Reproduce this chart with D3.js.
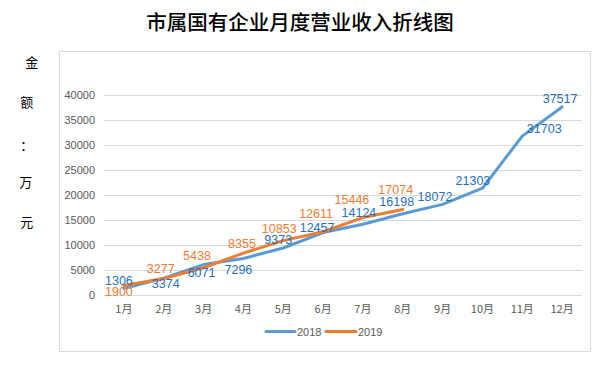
<!DOCTYPE html>
<html>
<head>
<meta charset="utf-8">
<script src="https://cdn.jsdelivr.net/npm/d3@7/dist/d3.min.js"></script>
<style>
  html, body { margin: 0; padding: 0; background: #fff; }
  svg { display: block; }
</style>
</head>
<body>
<div id="chart"></div>
<script>
// ---------- data ----------
const months = ["1月","2月","3月","4月","5月","6月","7月","8月","9月","10月","11月","12月"];
const values2018 = [1306, 3374, 6071, 7296, 9373, 12457, 14124, 16198, 18072, 21303, 31703, 37517];
const values2019 = [1900, 3277, 5438, 8355, 10853, 12611, 15446, 17074];
const seriesNames = ["2018", "2019"];
const yTicks = [0, 5000, 10000, 15000, 20000, 25000, 30000, 35000, 40000];
const titleText = "市属国有企业月度营业收入折线图";
const yTitleChars = ["金", "额", "：", "万", "元"];

// ---------- layout (label placement offsets, px) ----------
const labelOffsets2018 = [[-5,-7],[2,6],[-2,8.5],[-5,12],[-5,-8],[-6,-5],[-4,-11],[-6,-11.6],[-7.6,-7],[-9.5,-7],[22,-7],[-2,-7.5]];
const labelOffsets2019 = [[-5,7],[-3,-10],[-6.6,-11.7],[-1.4,-9],[-4,-12],[-7,-17.6],[-11,-17.7],[-7,-19.5]];

const W = 599, H = 365;
const colors = ["#5B9BD5", "#ED7D31"];
const labelColors = ["#1F70C1", "#ED7D31"];

const svg = d3.select("#chart").append("svg").attr("width", W).attr("height", H);

// chart frame
svg.append("rect").attr("x", 59.5).attr("y", 51.5).attr("width", 531).attr("height", 300)
  .attr("fill", "#fff").attr("stroke", "#d9d9d9").attr("stroke-width", 1);

// title
svg.append("text").attr("x", 300).attr("y", 30).attr("text-anchor", "middle")
  .attr("font-family", "'Noto Sans CJK SC', sans-serif").attr("font-size", 20.5)
  .attr("font-weight", 500).attr("fill", "#000").text(titleText);

// y title chars
const yTitlePos = [[31.7,61.7],[26.7,101.7],[26.7,144],[25.7,181.7],[26.7,221]];
svg.append("g").selectAll("text").data(yTitleChars).join("text")
  .attr("x", (d, i) => yTitlePos[i][0]).attr("y", (d, i) => yTitlePos[i][1])
  .attr("text-anchor", "middle").attr("dominant-baseline", "central")
  .attr("font-family", "'Noto Sans CJK SC', sans-serif").attr("font-size", 13)
  .attr("fill", "#000").text(d => d);

// scales
const x = d3.scaleBand().domain(months).range([104, 582]).padding(0);
const y = d3.scaleLinear().domain([0, 40000]).range([295, 94.5]);
const cx = m => x(m) + x.bandwidth() / 2;

// gridlines
svg.append("g").selectAll("line").data(yTicks).join("line")
  .attr("x1", 104).attr("x2", 582)
  .attr("y1", d => Math.round(y(d)) + 0.5).attr("y2", d => Math.round(y(d)) + 0.5)
  .attr("stroke", "#d9d9d9").attr("stroke-width", 1);

// y axis labels
const yAxis = d3.axisLeft(y).tickValues(yTicks).tickSize(0).tickPadding(0).tickFormat(d3.format("d"));
const yg = svg.append("g").attr("transform", "translate(95,0)").call(yAxis);
yg.select(".domain").remove();
yg.selectAll("text").attr("font-family", "'Liberation Sans', Arial, sans-serif")
  .attr("font-size", 11).attr("fill", "#595959");

// x axis labels
const xAxis = d3.axisBottom(x).tickSize(0).tickPadding(0);
const xg = svg.append("g").attr("transform", "translate(0,305)").call(xAxis);
xg.select(".domain").remove();
xg.selectAll("text").attr("font-family", "'Noto Sans CJK SC', sans-serif")
  .attr("font-size", 11).attr("fill", "#595959");

// lines
const line = d3.line().x(d => cx(d.m)).y(d => y(d.v));
const allSeries = [values2018, values2019].map((vals, s) => vals.map((v, i) => ({ m: months[i], v, s })));
allSeries.forEach((data, s) => {
  svg.append("path").datum(data).attr("d", line).attr("fill", "none")
    .attr("stroke", colors[s]).attr("stroke-width", 3)
    .attr("stroke-linejoin", "round").attr("stroke-linecap", "round");
});

// data labels
const offsets = [labelOffsets2018, labelOffsets2019];
allSeries.forEach((data, s) => {
  svg.append("g").selectAll("text").data(data).join("text")
    .attr("x", (d, i) => cx(d.m) + offsets[s][i][0])
    .attr("y", (d, i) => y(d.v) + offsets[s][i][1])
    .attr("text-anchor", "middle").attr("dominant-baseline", "central")
    .attr("font-family", "'Liberation Sans', Arial, sans-serif").attr("font-size", 12.5)
    .attr("fill", labelColors[s]).text(d => d.v);
});

// legend
const legendItems = [{ x1: 266, x2: 295, tx: 297 }, { x1: 326, x2: 356, tx: 358 }];
const lg = svg.append("g");
seriesNames.forEach((name, s) => {
  const it = legendItems[s];
  lg.append("line").attr("x1", it.x1).attr("x2", it.x2).attr("y1", 331.5).attr("y2", 331.5)
    .attr("stroke", colors[s]).attr("stroke-width", 3).attr("stroke-linecap", "round");
  lg.append("text").attr("x", it.tx).attr("y", 331.5).attr("dominant-baseline", "central")
    .attr("font-family", "'Liberation Sans', Arial, sans-serif").attr("font-size", 11)
    .attr("fill", "#595959").text(name);
});
</script>
</body>
</html>
